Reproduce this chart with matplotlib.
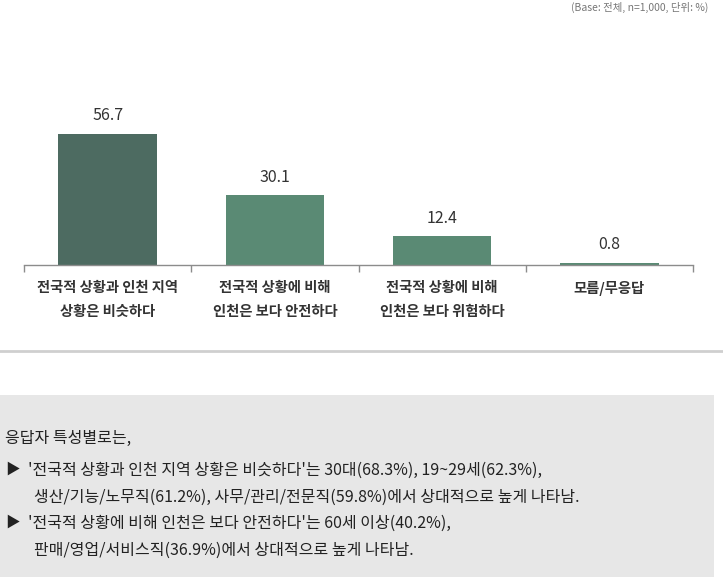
import matplotlib
matplotlib.use("Agg")
import matplotlib.pyplot as plt
from matplotlib.patches import Rectangle
from matplotlib.lines import Line2D

plt.rcParams['font.family'] = ['Noto Sans CJK KR', 'DejaVu Sans']

categories = ["전국적 상황과 인천 지역\n상황은 비슷하다",
              "전국적 상황에 비해\n인천은 보다 안전하다",
              "전국적 상황에 비해\n인천은 보다 위험하다",
              "모름/무응답"]
values = [56.7, 30.1, 12.4, 0.8]
bar_colors = ["#4d6b61", "#5a8a74", "#5a8a74", "#5a8a74"]
header = "(Base: 전체, n=1,000, 단위: %)"
note_lines = [
    "응답자 특성별로는,",
    "'전국적 상황과 인천 지역 상황은 비슷하다'는 30대(68.3%), 19~29세(62.3%),",
    "생산/기능/노무직(61.2%), 사무/관리/전문직(59.8%)에서 상대적으로 높게 나타남.",
    "'전국적 상황에 비해 인천은 보다 안전하다'는 60세 이상(40.2%),",
    "판매/영업/서비스직(36.9%)에서 상대적으로 높게 나타남.",
]

W, H = 723, 577
fig = plt.figure(figsize=(W / 100, H / 100), dpi=100)

def fx(px):
    return px / W

def fy(py):
    return 1 - py / H

ax = fig.add_axes([fx(24), fy(265), fx(693) - fx(24), fy(34) - fy(265)])
x = list(range(len(categories)))
ax.bar(x, values, width=0.59, color=bar_colors, zorder=2)
ax.set_xlim(-0.5, len(categories) - 0.5)
ax.set_ylim(0, 100)
for xi, v in zip(x, values):
    ax.annotate(f"{v:.1f}", (xi, v), xytext=(0, 7), textcoords="offset points",
                ha="center", va="bottom", fontsize=11.5, color="#333333")
for s in ["top", "right", "left"]:
    ax.spines[s].set_visible(False)
ax.spines["bottom"].set_color("#8c8c8c")
ax.spines["bottom"].set_linewidth(1.0)
ax.set_yticks([])
ax.set_xticks([i - 0.5 for i in range(len(categories) + 1)])
ax.set_xticklabels([])
ax.tick_params(axis="x", length=5, color="#8c8c8c", width=1.0)
for xi, c in zip(x, categories):
    ax.text(xi, -0.07, c, transform=ax.get_xaxis_transform(), ha="center", va="top",
            fontsize=10.3, fontweight="bold", color="#333333", linespacing=1.9)

# header
fig.text(fx(708), fy(7), header, ha="right", va="center", fontsize=7.5, color="#777777")

# separator line
fig.add_artist(Line2D([0, 1], [fy(351), fy(351)], color="#cfcfcf", lw=2, transform=fig.transFigure))

# gray box
fig.add_artist(Rectangle((0, 0), fx(714), fy(395), transform=fig.transFigure,
                         facecolor="#e7e7e7", edgecolor="none", zorder=0))

tc = "#222222"
fs = 11.5
fig.text(fx(5), fy(438), note_lines[0], ha="left", va="center", fontsize=fs, color=tc)
fig.text(fx(5), fy(470), "▶", ha="left", va="center", fontsize=10.5, color=tc)
fig.text(fx(28), fy(470), note_lines[1], ha="left", va="center", fontsize=fs, color=tc)
fig.text(fx(34), fy(497), note_lines[2], ha="left", va="center", fontsize=fs, color=tc)
fig.text(fx(5), fy(523), "▶", ha="left", va="center", fontsize=10.5, color=tc)
fig.text(fx(28), fy(523), note_lines[3], ha="left", va="center", fontsize=fs, color=tc)
fig.text(fx(34), fy(550), note_lines[4], ha="left", va="center", fontsize=fs, color=tc)

fig.savefig("out.png", dpi=100)
